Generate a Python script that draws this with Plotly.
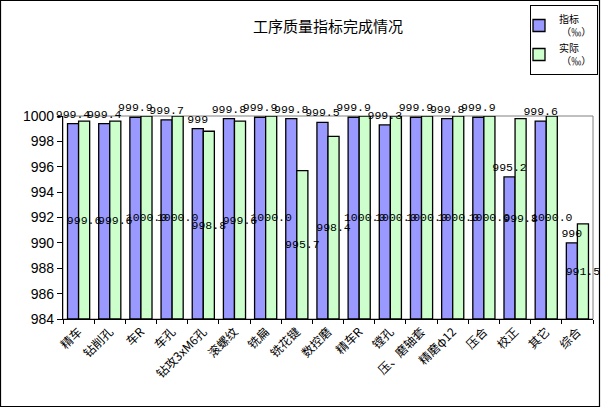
import plotly.graph_objects as go

categories = ["精车", "钻削孔", "车R", "车孔", "钻攻3xM6孔", "滚螺纹", "铣扁", "铣花键", "数控磨",
              "精车R", "镗孔", "压、磨轴套", "精磨φ12", "压合", "校正", "其它", "综合"]
target = [999.4, 999.4, 999.9, 999.7, 999.0, 999.8, 999.9, 999.8, 999.5,
          999.9, 999.3, 999.9, 999.8, 999.9, 995.2, 999.6, 990.0]
actual = [999.6, 999.6, 1000.0, 1000.0, 998.8, 999.6, 1000.0, 995.7, 998.4,
          1000.0, 1000.0, 1000.0, 1000.0, 1000.0, 999.8, 1000.0, 991.5]
y_min, y_max, y_step = 984, 1000, 2
target_text = [("%g" % v) for v in target]
actual_text = [("%.1f" % v) for v in actual]

W, H = 601, 408
L, R, T, B = 63, 8, 116, 89
pw, ph = W - L - R, H - T - B
BW = 0.355  # bar width in category units

def px(x):
    return (x - L) / pw

def py(y):
    return (H - B - y) / ph

mono = dict(family="Liberation Mono", size=11.5, color="black")

fig = go.Figure()
# bars
fig.add_trace(go.Bar(
    x=categories, y=[v - y_min for v in target], base=y_min, name="指标<br> （‰）",
    width=BW, offset=-BW, legendrank=1,
    marker=dict(color="#9999FF", line=dict(color="black", width=1.3)),
    hovertext=target_text, hoverinfo="x+text",
))
fig.add_trace(go.Bar(
    x=categories, y=[v - y_min for v in actual], base=y_min, name="实际<br> （‰）",
    width=BW, offset=0, legendrank=2,
    marker=dict(color="#CCFFCC", line=dict(color="black", width=1.3)),
    hovertext=actual_text, hoverinfo="x+text",
))
# labels drawn on top
fig.add_trace(go.Bar(
    x=categories, y=[v - y_min for v in target], base=y_min, showlegend=False,
    width=BW, offset=-BW, hoverinfo="skip",
    marker=dict(color="rgba(0,0,0,0)", line=dict(width=0)),
    text=target_text, textposition="outside", cliponaxis=False,
    constraintext="none", textangle=0, outsidetextfont=mono,
))
fig.add_trace(go.Bar(
    x=categories, y=[v - y_min for v in actual], base=y_min, showlegend=False,
    width=BW, offset=0, hoverinfo="skip", cliponaxis=False,
    marker=dict(color="rgba(0,0,0,0)", line=dict(width=0)),
    text=actual_text, textposition="inside", insidetextanchor="middle",
    constraintext="none", textangle=0, insidetextfont=mono,
))

fig.update_layout(
    width=W, height=H,
    margin=dict(l=L, r=R, t=T, b=B, pad=0, autoexpand=False),
    paper_bgcolor="white", plot_bgcolor="white",
    barmode="overlay",
    font=dict(family="Noto Sans CJK SC", size=12, color="black"),
    title=dict(text="工序质量指标完成情况", x=0.5, xref="paper", xanchor="center",
               y=1 - 27 / H, yanchor="middle",
               font=dict(family="Noto Sans CJK SC", size=15, color="black")),
    legend=dict(x=530 / W, y=1 - 5 / H, xref="container", yref="container",
                xanchor="left", yanchor="top",
                bordercolor="black", borderwidth=1, bgcolor="white",
                font=dict(family="Noto Sans CJK SC", size=10, color="black"),
                tracegroupgap=0, itemwidth=30, indentation=-12),
    showlegend=True,
    shapes=[
        dict(type="rect", xref="paper", yref="paper", x0=0, x1=1, y0=0, y1=1,
             line=dict(color="#808080", width=1), layer="below"),
        dict(type="rect", xref="paper", yref="paper",
             x0=px(0.5), x1=px(599.5), y0=py(406.5), y1=py(0.5),
             line=dict(color="black", width=1.2)),
    ],
)
fig.update_xaxes(
    type="category", tickangle=-45, showline=True, linecolor="black", linewidth=1.2,
    ticks="outside", ticklen=4, tickcolor="black", tickson="boundaries",
    tickfont=dict(family="Noto Sans CJK SC", size=12, color="black"),
    showgrid=False, automargin=False,
)
fig.update_yaxes(
    range=[y_min, y_max], dtick=y_step, tick0=y_min, showline=True, linecolor="black", linewidth=1.2,
    ticks="outside", ticklen=5, tickcolor="black", showgrid=False, zeroline=False,
    tickfont=dict(family="Liberation Sans", size=14, color="black"), automargin=False,
)

fig.write_html("out.html", config={"displayModeBar": False},
               post_script="document.body.style.margin='0';document.body.style.overflow='hidden';")
